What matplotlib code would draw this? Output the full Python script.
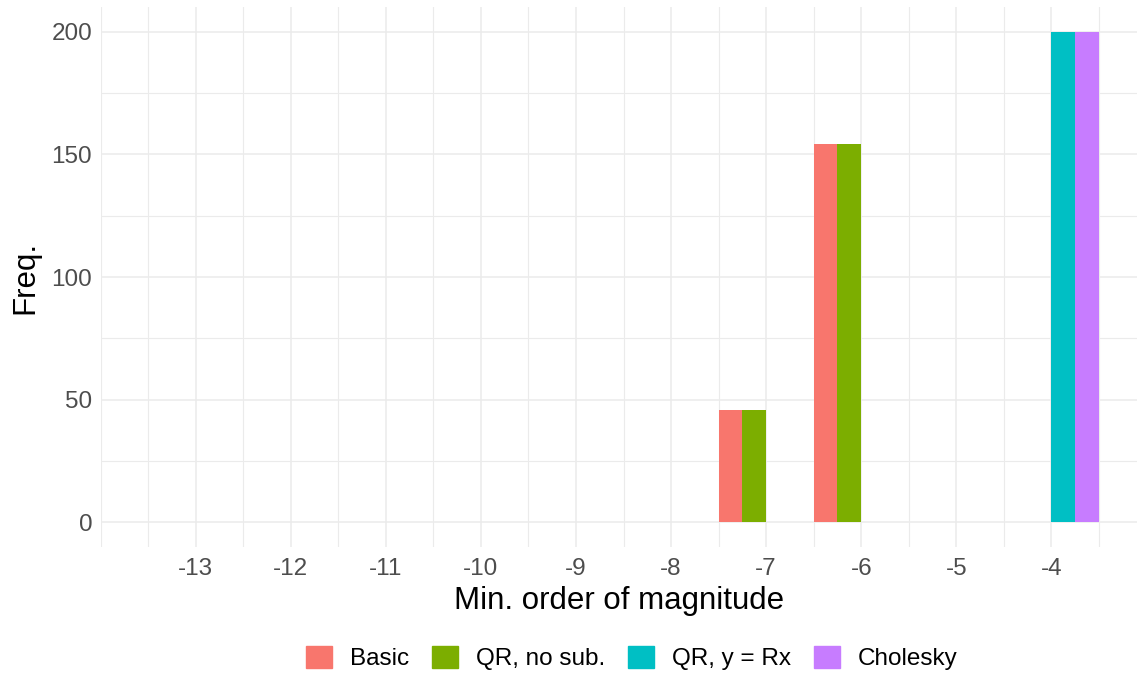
import matplotlib
matplotlib.use('Agg')
import matplotlib.pyplot as plt
import numpy as np
from matplotlib.patches import Rectangle
from matplotlib.ticker import MultipleLocator

plt.rcParams['font.family'] = ['Liberation Sans', 'DejaVu Sans']

# data
orders = [-13, -12, -11, -10, -9, -8, -7, -6, -5, -4]
methods = ['Basic', 'QR, no sub.', 'QR, y = Rx', 'Cholesky']
colors = ['#F8766D', '#7CAE00', '#00BFC4', '#C77CFF']
basic = [0, 0, 0, 0, 0, 0, 46, 154, 0, 0]
qr_nosub = [0, 0, 0, 0, 0, 0, 46, 154, 0, 0]
qr_rx = [0, 0, 0, 0, 0, 0, 0, 0, 0, 200]
cholesky = [0, 0, 0, 0, 0, 0, 0, 0, 0, 200]
series = [basic, qr_nosub, qr_rx, cholesky]

fig = plt.figure(figsize=(11.43, 6.79), dpi=100)
ax = fig.add_axes([100.5 / 1143, 1 - 547 / 679, (1137 - 100.5) / 1143, 540 / 679])

w = 0.25
x = np.array(orders, dtype=float)
for i, vals in enumerate(series):
    ax.bar(x + (i - 1.5) * w, vals, width=w, color=colors[i], linewidth=0, zorder=3)

ax.set_xlim(-14.0, -3.1)
ax.set_ylim(-10, 210)
ax.set_xticks(orders)
ax.set_xticklabels([str(o) for o in orders])
ax.set_yticks([0, 50, 100, 150, 200])
ax.xaxis.set_minor_locator(MultipleLocator(0.5))
ax.yaxis.set_minor_locator(MultipleLocator(25))

ax.grid(True, which='major', color='#EBEBEB', linewidth=1.1, zorder=0)
ax.grid(True, which='minor', color='#EBEBEB', linewidth=0.8, zorder=0)
ax.set_axisbelow(True)
for s in ax.spines.values():
    s.set_visible(False)
ax.tick_params(which='both', length=0)
ax.tick_params(axis='x', labelsize=17.5, labelcolor='#4D4D4D', pad=8)
ax.tick_params(axis='y', labelsize=17.5, labelcolor='#4D4D4D', pad=6)

ax.set_xlabel('Min. order of magnitude', fontsize=22.5, color='black', labelpad=4)
ax.set_ylabel('Freq.', fontsize=22.5, color='black', labelpad=8)

handles = [Rectangle((0, 0), 1, 1, color=c) for c in colors]
fig.legend(handles, methods, loc='center', bbox_to_anchor=(632 / 1143, 1 - 658 / 679),
           ncol=4, frameon=False, fontsize=17.5, handlelength=1.05, handleheight=1.05,
           handletextpad=0.75, columnspacing=0.95)

fig.savefig('out.png', dpi=100)
plt.close(fig)
